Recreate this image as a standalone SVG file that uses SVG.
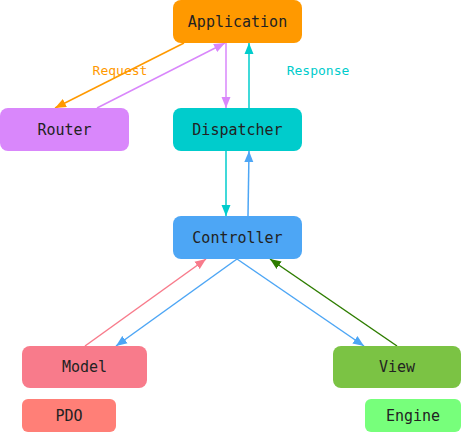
<svg xmlns="http://www.w3.org/2000/svg" width="463" height="432" viewBox="0 0 463 432">
<style>
.box{stroke:none}
.lbl{font-family:"DejaVu Sans Mono","Liberation Mono",monospace;font-size:15px;fill:#222;text-anchor:middle}
.elbl{font-family:"DejaVu Sans Mono","Liberation Mono",monospace;font-size:13px;text-anchor:middle}
.e{fill:none;stroke-width:1.5}
</style>
<defs>
<marker id="mO" markerUnits="userSpaceOnUse" markerWidth="12" markerHeight="10" refX="11" refY="5" orient="auto"><path d="M0,0.5 L11,5 L0,9.5 z" fill="#FF9900"/></marker>
<marker id="mP" markerUnits="userSpaceOnUse" markerWidth="12" markerHeight="10" refX="11" refY="5" orient="auto"><path d="M0,0.5 L11,5 L0,9.5 z" fill="#D987FB"/></marker>
<marker id="mC" markerUnits="userSpaceOnUse" markerWidth="12" markerHeight="10" refX="11" refY="5" orient="auto"><path d="M0,0.5 L11,5 L0,9.5 z" fill="#00CCCC"/></marker>
<marker id="mB" markerUnits="userSpaceOnUse" markerWidth="12" markerHeight="10" refX="11" refY="5" orient="auto"><path d="M0,0.5 L11,5 L0,9.5 z" fill="#4DA6F5"/></marker>
<marker id="mR" markerUnits="userSpaceOnUse" markerWidth="12" markerHeight="10" refX="11" refY="5" orient="auto"><path d="M0,0.5 L11,5 L0,9.5 z" fill="#F87B8B"/></marker>
<marker id="mG" markerUnits="userSpaceOnUse" markerWidth="12" markerHeight="10" refX="11" refY="5" orient="auto"><path d="M0,0.5 L11,5 L0,9.5 z" fill="#2E7D00"/></marker>
</defs>
<g id="connectors">
<line class="e" x1="184" y1="43" x2="55" y2="108" stroke="#FF9900" marker-end="url(#mO)"/>
<line class="e" x1="97" y1="108" x2="225" y2="43" stroke="#D987FB" marker-end="url(#mP)"/>
<line class="e" x1="226" y1="43" x2="226" y2="108" stroke="#D987FB" marker-end="url(#mP)"/>
<line class="e" x1="249" y1="108" x2="249" y2="43" stroke="#00CCCC" marker-end="url(#mC)"/>
<line class="e" x1="226" y1="151" x2="226" y2="216" stroke="#00CCCC" marker-end="url(#mC)"/>
<line class="e" x1="248" y1="216" x2="249" y2="151" stroke="#4DA6F5" marker-end="url(#mB)"/>
<line class="e" x1="85" y1="346" x2="206" y2="259" stroke="#F87B8B" marker-end="url(#mR)"/>
<line class="e" x1="237" y1="259" x2="116" y2="346" stroke="#4DA6F5" marker-end="url(#mB)"/>
<line class="e" x1="237" y1="259" x2="364" y2="346" stroke="#4DA6F5" marker-end="url(#mB)"/>
<line class="e" x1="397" y1="346" x2="270" y2="259" stroke="#2E7D00" marker-end="url(#mG)"/>
<text class="elbl" x="120" y="75" fill="#FF9900">Request</text>
<text class="elbl" x="318" y="75" fill="#00CCCC">Response</text>
</g>
<g id="application"><rect class="box" x="173" y="0" width="129" height="43" rx="8" fill="#FF9900"/><text class="lbl" x="237.5" y="27">Application</text></g>
<g id="router"><rect class="box" x="0" y="108" width="129" height="43" rx="8" fill="#D987FB"/><text class="lbl" x="64.5" y="135">Router</text></g>
<g id="dispatcher"><rect class="box" x="173" y="108" width="129" height="43" rx="8" fill="#00CCCC"/><text class="lbl" x="237.5" y="135">Dispatcher</text></g>
<g id="controller"><rect class="box" x="173" y="216" width="129" height="43" rx="8" fill="#4DA6F5"/><text class="lbl" x="237.5" y="243">Controller</text></g>
<g id="model"><rect class="box" x="22" y="346" width="125" height="42" rx="8" fill="#F87B8B"/><text class="lbl" x="84.5" y="372">Model</text></g>
<g id="view"><rect class="box" x="333" y="346" width="128" height="42" rx="8" fill="#7BC344"/><text class="lbl" x="397" y="372">View</text></g>
<g id="pdo"><rect class="box" x="22" y="399" width="94" height="33" rx="6" fill="#FF7F77"/><text class="lbl" x="69" y="421">PDO</text></g>
<g id="engine"><rect class="box" x="365" y="399" width="96" height="33" rx="6" fill="#77FF7B"/><text class="lbl" x="413" y="421">Engine</text></g>
</svg>
